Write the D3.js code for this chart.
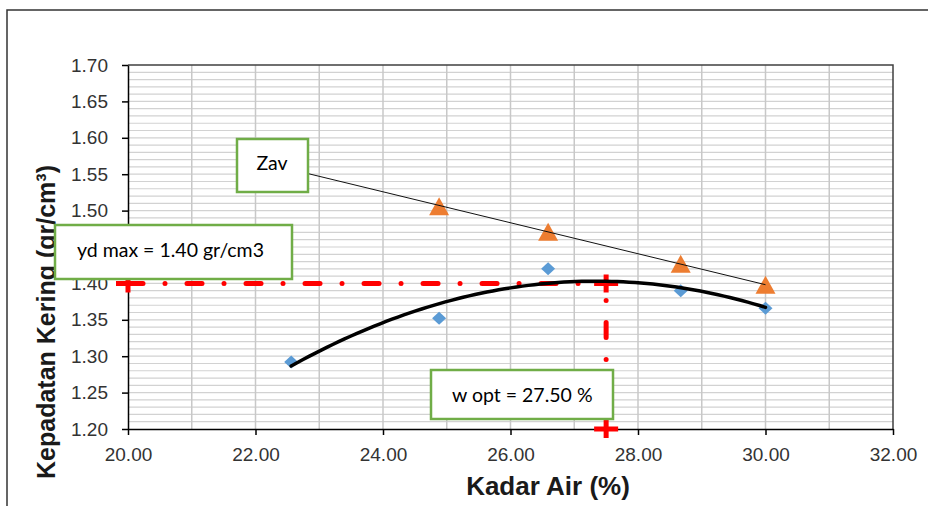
<!DOCTYPE html>
<html>
<head>
<meta charset="utf-8">
<script src="https://cdn.jsdelivr.net/npm/d3@7"></script>
<style>
  body { margin: 0; background: #fff; }
  svg { display: block; }
</style>
</head>
<body>
<svg width="928" height="506"></svg>
<script>
// data
var kadarAir = [22.56, 24.88, 26.59, 28.67, 30.0];
var kepadatan = [1.292, 1.352, 1.42, 1.39, 1.366];
var zavValues = [1.557, 1.506, 1.471, 1.427, 1.398];
var xTicks = [20, 22, 24, 26, 28, 30, 32];
var yTicks = [1.2, 1.25, 1.3, 1.35, 1.4, 1.45, 1.5, 1.55, 1.6, 1.65, 1.7];
var ydMax = 1.4;
var wOpt = 27.5;

var svg = d3.select("svg");
var plotLeft = 128, plotTop = 65, plotRight = 893, plotBottom = 429;

var x = d3.scaleLinear().domain([20, 32]).range([plotLeft, plotRight]);
var y = d3.scaleLinear().domain([1.2, 1.7]).range([plotBottom, plotTop]);

// outer chart frame (cut at right/bottom)
svg.append("path")
  .attr("d", "M7,520 L7,10 L940,10")
  .attr("fill", "none")
  .attr("stroke", "#333")
  .attr("stroke-width", 1.5);

// gridlines
var grid = svg.append("g");
grid.selectAll(".hg")
  .data(d3.range(1, 50))
  .enter()
  .append("line")
  .attr("x1", plotLeft).attr("x2", plotRight)
  .attr("y1", (d) => y(1.2 + d * 0.01))
  .attr("y2", (d) => y(1.2 + d * 0.01))
  .attr("stroke", "#d2d2d2")
  .attr("stroke-width", 1.2);
grid.selectAll(".vg")
  .data(d3.range(21, 32))
  .enter()
  .append("line")
  .attr("y1", plotTop).attr("y2", plotBottom)
  .attr("x1", (d) => x(d)).attr("x2", (d) => x(d))
  .attr("stroke", "#c8c8c8")
  .attr("stroke-width", 1.5);

// plot border top/right
svg.append("path")
  .attr("d", "M" + plotLeft + "," + plotTop + " L" + plotRight + "," + plotTop + " L" + plotRight + "," + plotBottom)
  .attr("fill", "none")
  .attr("stroke", "#404040")
  .attr("stroke-width", 1.5);

// axes
var xAxis = svg.append("g")
  .attr("transform", "translate(0," + plotBottom + ")")
  .call(d3.axisBottom(x).tickValues(xTicks).tickFormat((d) => d.toFixed(2)).tickSize(6).tickPadding(13).tickSizeOuter(0));
var yAxis = svg.append("g")
  .attr("transform", "translate(" + plotLeft + ",0)")
  .call(d3.axisLeft(y).tickValues(yTicks).tickFormat((d) => d.toFixed(2)).tickSize(6).tickPadding(14).tickSizeOuter(0));
[xAxis, yAxis].forEach(function (a) {
  a.attr("font-family", "'Liberation Sans', Arial, sans-serif").attr("font-size", 19);
  a.select(".domain").attr("stroke", "#000").attr("stroke-width", 1.5);
  a.selectAll(".tick line").attr("stroke", "#000").attr("stroke-width", 1.5);
  a.selectAll("text").attr("fill", "#333");
});

// axis titles
svg.append("text")
  .attr("x", 548)
  .attr("y", 495)
  .attr("text-anchor", "middle")
  .attr("font-family", "'Liberation Sans', Arial, sans-serif")
  .attr("font-weight", "bold")
  .attr("font-size", "26px")
  .attr("fill", "#1a1a1a")
  .text("Kadar Air (%)");
svg.append("text")
  .attr("transform", "translate(55,322) rotate(-90)")
  .attr("text-anchor", "middle")
  .attr("font-family", "'Liberation Sans', Arial, sans-serif")
  .attr("font-weight", "bold")
  .attr("font-size", "25px")
  .attr("fill", "#1a1a1a")
  .text("Kepadatan Kering (gr/cm³)");

// red guide lines (dash-dot)
var redPattern = "15,22,0.01,22";
svg.append("line")
  .attr("x1", x(20)).attr("x2", x(wOpt))
  .attr("y1", y(ydMax)).attr("y2", y(ydMax))
  .attr("stroke", "#ff0000")
  .attr("stroke-width", 5)
  .attr("stroke-linecap", "round")
  .attr("stroke-dasharray", redPattern);
svg.append("line")
  .attr("x1", x(wOpt)).attr("x2", x(wOpt))
  .attr("y1", y(ydMax)).attr("y2", y(1.2))
  .attr("stroke", "#ff0000")
  .attr("stroke-width", 5)
  .attr("stroke-linecap", "round")
  .attr("stroke-dasharray", redPattern)
  .attr("stroke-dashoffset", 20);

var plusPts = [[20, ydMax], [wOpt, ydMax], [wOpt, 1.2]];
svg.selectAll(".plus")
  .data(plusPts)
  .enter()
  .append("path")
  .attr("transform", (d) => "translate(" + x(d[0]) + "," + y(d[1]) + ")")
  .attr("d", "M-12,-2.5 H-2.5 V-9 H2.5 V-2.5 H12 V2.5 H2.5 V9 H-2.5 V2.5 H-12 Z")
  .attr("fill", "#ff0000");

// Zav series: triangles + linear trend
svg.selectAll(".tri")
  .data(kadarAir)
  .enter()
  .append("path")
  .attr("transform", (d, i) => "translate(" + x(d) + "," + y(zavValues[i]) + ")")
  .attr("d", "M0,-9 L10,9 L-10,9 Z")
  .attr("fill", "#ED7D31");

function linFit(xs, ys) {
  var mx = d3.mean(xs), my = d3.mean(ys);
  var num = d3.sum(xs, (v, i) => (v - mx) * (ys[i] - my));
  var den = d3.sum(xs, (v) => (v - mx) * (v - mx));
  var b = num / den;
  return [my - b * mx, b];
}
var zf = linFit(kadarAir, zavValues);
var xMin = d3.min(kadarAir), xMax = d3.max(kadarAir);
svg.append("line")
  .attr("x1", x(xMin)).attr("y1", y(zf[0] + zf[1] * xMin))
  .attr("x2", x(xMax)).attr("y2", y(zf[0] + zf[1] * xMax))
  .attr("stroke", "#111")
  .attr("stroke-width", 1);

// measured points
svg.selectAll(".dia")
  .data(kadarAir)
  .enter()
  .append("path")
  .attr("transform", (d, i) => "translate(" + x(d) + "," + y(kepadatan[i]) + ")")
  .attr("d", "M0,-6.5 L7,0 L0,6.5 L-7,0 Z")
  .attr("fill", "#5B9BD5");

// quadratic least-squares trendline
function quadFit(xs, ys) {
  var s = [0, 0, 0, 0, 0], t = [0, 0, 0];
  xs.forEach(function (v, i) {
    for (var k = 0; k < 5; k++) s[k] += Math.pow(v, k);
    for (var k2 = 0; k2 < 3; k2++) t[k2] += Math.pow(v, k2) * ys[i];
  });
  var A = [[s[0], s[1], s[2], t[0]], [s[1], s[2], s[3], t[1]], [s[2], s[3], s[4], t[2]]];
  for (var c = 0; c < 3; c++) {
    for (var r = c + 1; r < 3; r++) {
      var f = A[r][c] / A[c][c];
      for (var j = c; j < 4; j++) A[r][j] -= f * A[c][j];
    }
  }
  var sol = [0, 0, 0];
  for (var r2 = 2; r2 >= 0; r2--) {
    var acc = A[r2][3];
    for (var j2 = r2 + 1; j2 < 3; j2++) acc -= A[r2][j2] * sol[j2];
    sol[r2] = acc / A[r2][r2];
  }
  return sol;
}
var qf = quadFit(kadarAir, kepadatan);
var curvePts = d3.range(xMin, xMax + 0.001, (xMax - xMin) / 80).map((v) => [v, qf[0] + qf[1] * v + qf[2] * v * v]);
svg.append("path")
  .datum(curvePts)
  .attr("d", d3.line().x((d) => x(d[0])).y((d) => y(d[1])))
  .attr("fill", "none")
  .attr("stroke", "#000")
  .attr("stroke-width", 3.5)
  .attr("stroke-linecap", "round");

// text boxes
function box(bx, by, bw, bh, label, tx, ty, anchor) {
  svg.append("rect")
    .attr("x", bx).attr("y", by)
    .attr("width", bw).attr("height", bh)
    .attr("fill", "#fff")
    .attr("stroke", "#70AD47")
    .attr("stroke-width", 2.5);
  svg.append("text")
    .attr("x", tx).attr("y", ty)
    .attr("text-anchor", anchor)
    .attr("font-family", "Lato, 'Open Sans', sans-serif")
    .attr("font-size", "19.5px")
    .attr("fill", "#000")
    .text(label);
}
box(237, 139, 71, 53, "Zav", 272, 170, "middle");
box(55, 225, 237, 54, "yd max = " + ydMax.toFixed(2) + " gr/cm3", 77, 257, "start");
box(431, 370, 182, 49, "w opt = " + wOpt.toFixed(2) + " %", 452, 402, "start");
</script>
</body>
</html>
